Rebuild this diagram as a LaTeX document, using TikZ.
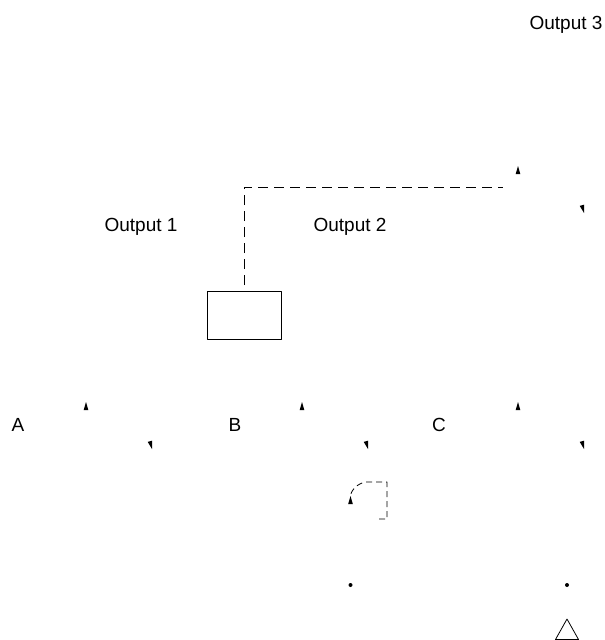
\documentclass[tikz,border=0pt]{standalone}
\usepackage{fontspec}
\setmainfont{Liberation Sans}
\begin{document}
\begin{tikzpicture}[x=1pt,y=-1pt,line join=round,line cap=butt,line width=0.8pt]
	\tikzset{every node/.style={font=\fontsize{19}{21}\selectfont,inner sep=0pt},
		dashline/.style={dash pattern=on 10pt off 6pt},
		tipmark/.style={fill=black,draw=none}}
	\useasboundingbox (0,0) rectangle (605,640);
	\node (out3) at (566,25) {Output 3};
	\node (out1) at (141,227) {Output 1};
	\node (out2) at (350,227) {Output 2};
	\node (la) at (18,425) {A};
	\node (lb) at (235,425) {B};
	\node (lc) at (439,425) {C};
	\draw (207,291) rectangle (281,339);
	\draw[dashline] (244,285)--(244,187)--(503,187);
	\foreach \x/\y/\a in {518/166/90,584/213/-75,86/402/90,152/449/-75,302/402/90,368/449/-75,518/402/90,584/449/-75,350.5/496/90}
	\fill[tipmark,shift={(\x,\y)},rotate=\a] (0,0)--(-8,2.3)--(-8,-2.3)--cycle;
	\draw[dash pattern=on 6pt off 4pt] (379,519)--(387,519)--(387,482)--(366,482) .. controls (358,483) and (351,490) .. (350.5,496);
	\foreach \x in {350.5,567}
	\fill (\x,585) circle (2);
	\draw (567,619)--(555.5,639.5)--(578.5,639.5)--cycle;
\end{tikzpicture}
\end{document}
